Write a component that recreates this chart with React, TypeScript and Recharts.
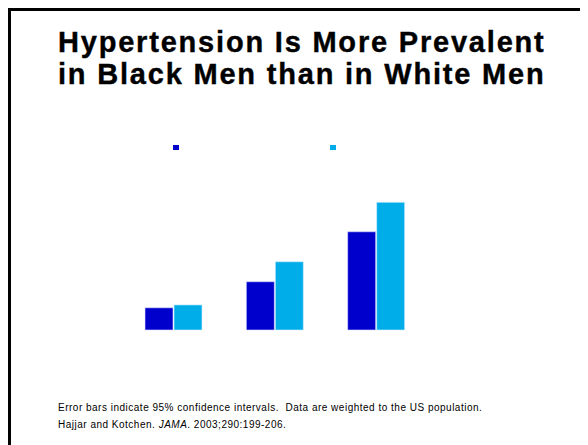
import React from 'react';
import { BarChart, Bar, XAxis, YAxis, Legend } from 'recharts';

// age groups (axis labels are not shown on the slide)
const ageGroups = ['18-39', '40-59', '≥60'];
const whiteMen = [11.7, 25.4, 51.7];
const blackMen = [13.2, 35.9, 67.2];

const seriesNames = ['White men', 'Black men'];
const darkBlue = '#0000CC';
const lightBlue = '#00ADE8';

const data = ageGroups.map((g, i) => ({
    group: g,
    white: whiteMen[i],
    black: blackMen[i]
}));

const SquareLegend = () => (
    <div style={{ position: 'relative', height: 6 }}>
        <div style={{ position: 'absolute', left: 73, top: 0, width: 6, height: 5, background: darkBlue }} />
        <div style={{ position: 'absolute', left: 230, top: 0, width: 6, height: 5, background: lightBlue }} />
    </div>
);

const App: React.FC = () => {
    return (
        <div style={{ position: 'relative', width: 580, height: 437, background: '#fff', fontFamily: '"Liberation Sans", Arial, sans-serif' }}>
            <div style={{ position: 'absolute', left: 0, top: 0, width: 580, height: 3, background: '#000' }} />
            <div style={{ position: 'absolute', left: 0, top: 0, width: 3, height: 437, background: '#000' }} />

            <div
                style={{
                    position: 'absolute',
                    left: 50,
                    top: 18,
                    fontSize: 29,
                    fontWeight: 'bold',
                    lineHeight: '32px',
                    letterSpacing: '1.8px',
                    WebkitTextStroke: '0.4px #000',
                    color: '#000',
                    whiteSpace: 'nowrap'
                }}
            >
                Hypertension Is More Prevalent
                <br />
                in Black Men than in White Men
            </div>

            <div style={{ position: 'absolute', left: 92, top: 92 }}>
                <BarChart
                    width={400}
                    height={250}
                    data={data}
                    margin={{ top: 34, right: 73, left: 23, bottom: 20 }}
                    barSize={28}
                    barGap={1}
                >
                    <XAxis dataKey="group" hide />
                    <YAxis domain={[0, 100]} hide />
                    <Legend
                        verticalAlign="top"
                        align="left"
                        wrapperStyle={{ top: 45, left: 0, width: 400 }}
                        content={<SquareLegend />}
                    />
                    <Bar dataKey="white" name={seriesNames[0]} fill={darkBlue} stroke="#D8DCFF" strokeWidth={0.6} isAnimationActive={false} />
                    <Bar dataKey="black" name={seriesNames[1]} fill={lightBlue} stroke="#D8F0FF" strokeWidth={0.6} isAnimationActive={false} />
                </BarChart>
            </div>

            <div
                style={{
                    position: 'absolute',
                    left: 50,
                    top: 391,
                    fontSize: 10,
                    lineHeight: '17px',
                    letterSpacing: '0.5px',
                    color: '#000',
                    whiteSpace: 'pre'
                }}
            >
                Error bars indicate 95% confidence intervals.  Data are weighted to the US population.
                <br />
                Hajjar and Kotchen. <i>JAMA</i>. 2003;290:199-206.
            </div>
        </div>
    );
};

export default App;
